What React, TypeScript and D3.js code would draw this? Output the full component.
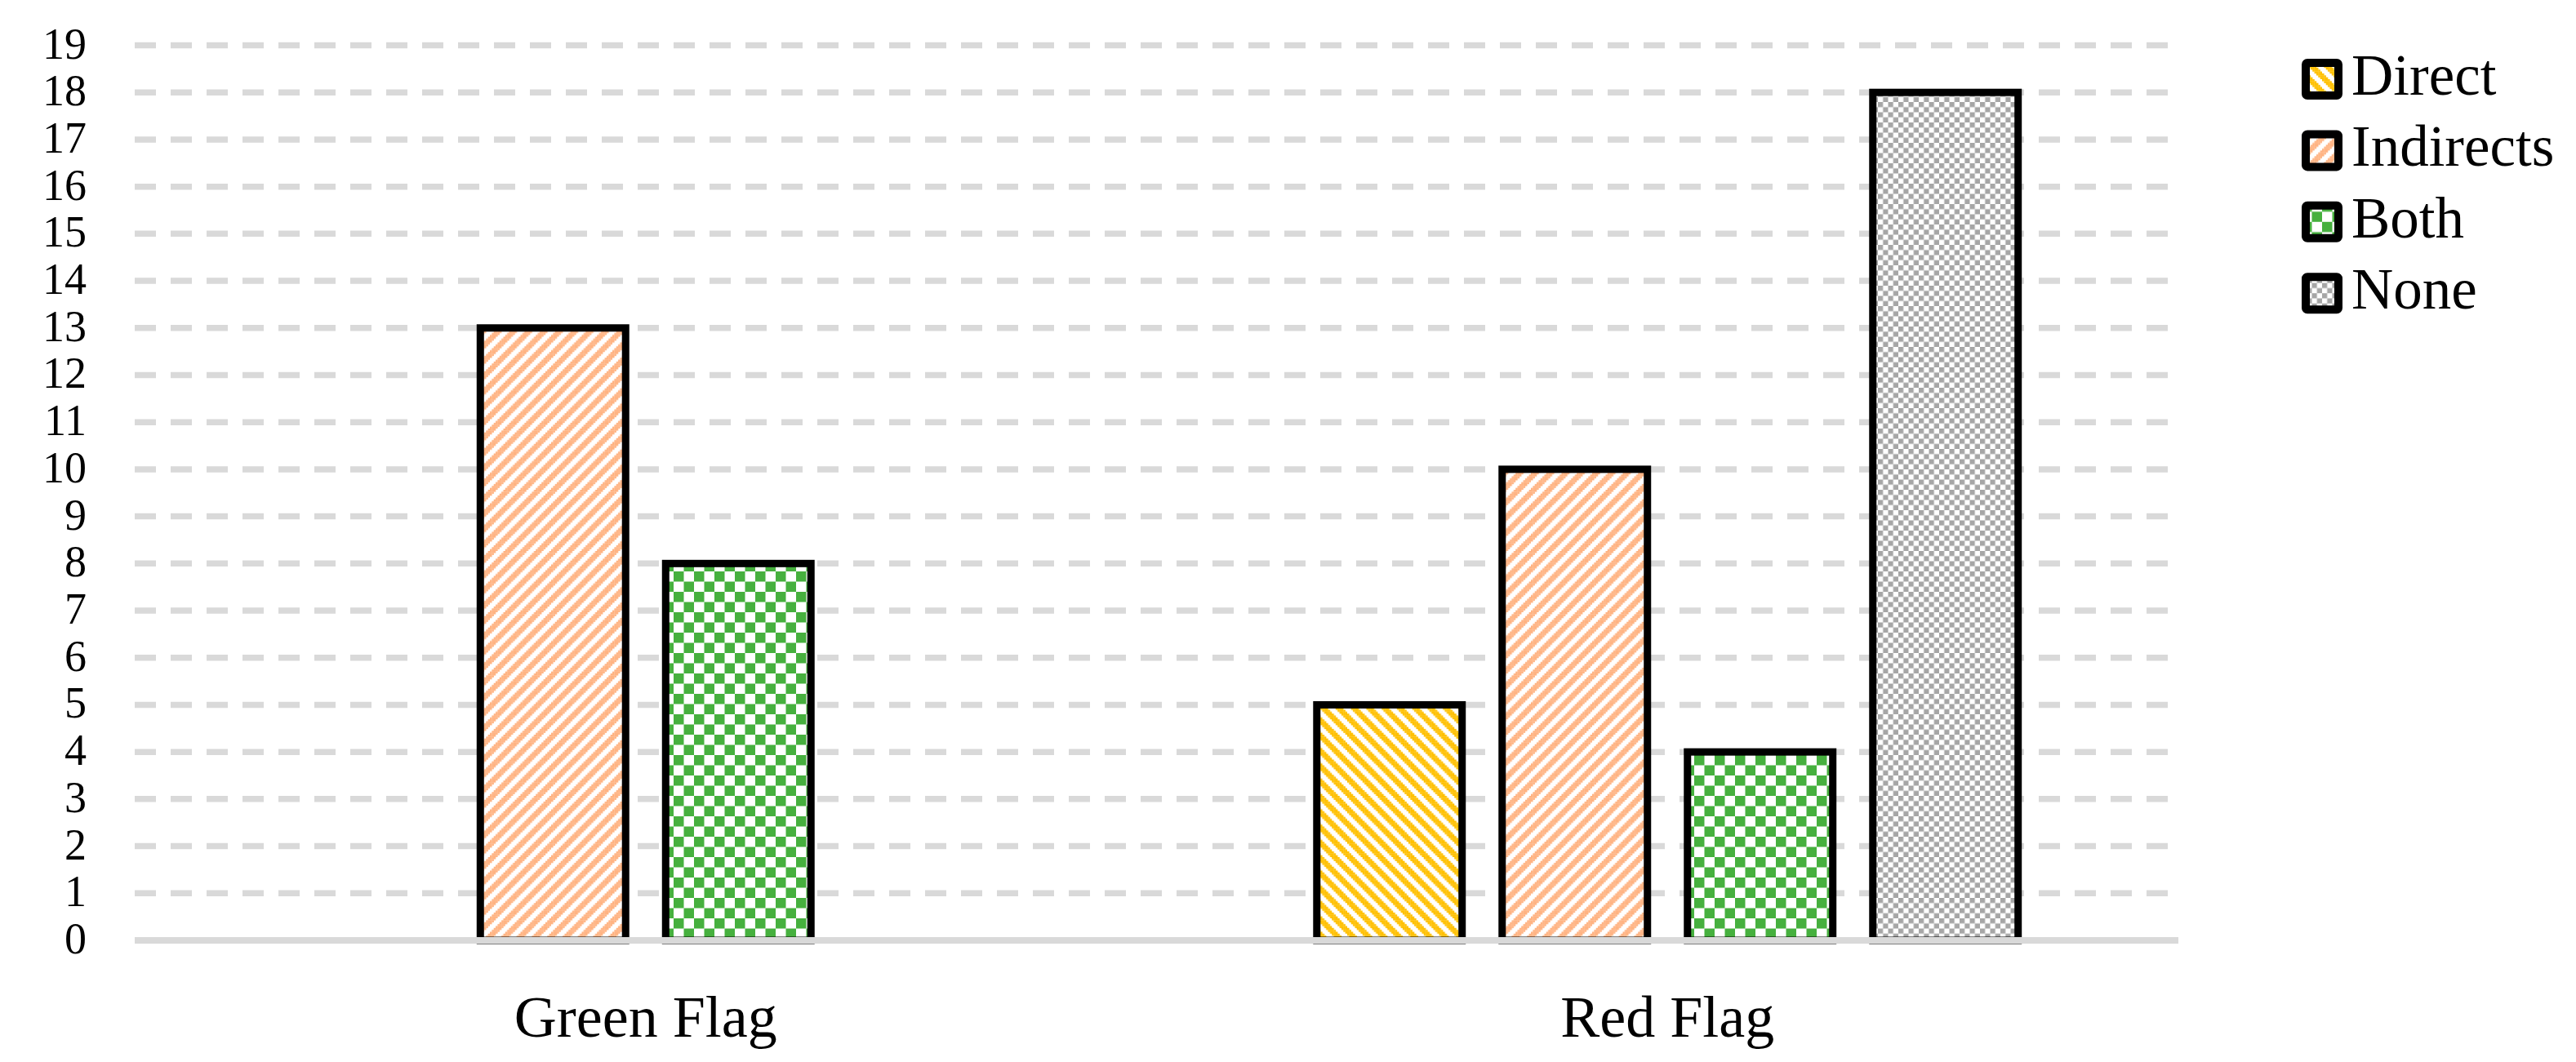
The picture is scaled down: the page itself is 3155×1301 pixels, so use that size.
import * as d3 from "d3";
import { useEffect, useRef } from "react";

const categories = ["Green Flag", "Red Flag"];
const seriesNames = ["Direct", "Indirects", "Both", "None"];
const greenFlagValues = [0, 13, 8, 0];
const redFlagValues = [5, 10, 4, 18];
const yTickValues = [0, 1, 2, 3, 4, 5, 6, 7, 8, 9, 10, 11, 12, 13, 14, 15, 16, 17, 18, 19];

const seriesColors = ["#FFC000", "#FFB382", "#46B03E", "#A6A6A6"];
const FONT = "'Liberation Serif', 'Times New Roman', serif";

export default function App() {
  const svgRef = useRef<SVGSVGElement | null>(null);
  const width = 3155;
  const height = 1301;

  useEffect(() => {
    if (!svgRef.current) return;
    const svg = d3.select(svgRef.current);
    svg.selectAll("*").remove();

    const rows = [greenFlagValues, redFlagValues];
    const bars = categories.flatMap((cat, ci) =>
      seriesNames.map((s, si) => ({ cat, series: s, si, value: rows[ci][si] }))
    );

    // scales
    const plotLeft = 165;
    const plotRight = 2668;
    const x0 = d3
      .scaleBand()
      .domain(categories)
      .range([plotLeft, plotRight])
      .paddingInner(0.2745)
      .paddingOuter(0.13725);
    const x1 = d3
      .scaleBand()
      .domain(seriesNames)
      .range([0, x0.bandwidth()])
      .paddingInner(0.216)
      .paddingOuter(0.108);
    const y = d3.scaleLinear().domain([0, 19]).range([1152, 55.5]);

    // patterns
    const defs = svg.append("defs");
    const P = 18.75;
    const c = P / 8;
    const stripe = (id: string, color: string, down: boolean) => {
      const pat = defs
        .append("pattern")
        .attr("id", id)
        .attr("patternUnits", "userSpaceOnUse")
        .attr("width", P)
        .attr("height", P);
      pat.append("rect").attr("width", P).attr("height", P).attr("fill", "#fff");
      const cells: [number, number][] = [];
      for (let r = 0; r < 8; r++) {
        const start = down ? r : 7 - r;
        for (let k = 0; k < 4; k++) cells.push([(start + k) % 8, r]);
      }
      pat
        .selectAll("rect.cell")
        .data(cells)
        .enter()
        .append("rect")
        .attr("class", "cell")
        .attr("x", (d) => d[0] * c)
        .attr("y", (d) => d[1] * c)
        .attr("width", c + 0.2)
        .attr("height", c + 0.2)
        .attr("fill", color);
    };
    const checker = (id: string, color: string, size: number) => {
      const pat = defs
        .append("pattern")
        .attr("id", id)
        .attr("patternUnits", "userSpaceOnUse")
        .attr("width", size * 2)
        .attr("height", size * 2);
      pat.append("rect").attr("width", size * 2).attr("height", size * 2).attr("fill", "#fff");
      pat.append("rect").attr("width", size).attr("height", size).attr("fill", color);
      pat.append("rect").attr("x", size).attr("y", size).attr("width", size).attr("height", size).attr("fill", color);
    };
    stripe("pat-0", seriesColors[0], true);
    stripe("pat-1", seriesColors[1], false);
    checker("pat-2", seriesColors[2], 12.5);
    checker("pat-3", seriesColors[3], 6.25);

    // gridlines
    svg
      .append("g")
      .selectAll("line")
      .data(yTickValues.filter((v) => v > 0))
      .enter()
      .append("line")
      .attr("x1", plotLeft)
      .attr("x2", plotRight)
      .attr("y1", (d) => y(d))
      .attr("y2", (d) => y(d))
      .attr("stroke", "#D9D9D9")
      .attr("stroke-width", 7.5)
      .attr("stroke-dasharray", "26 18");

    // y tick labels
    svg
      .append("g")
      .selectAll("text")
      .data(yTickValues)
      .enter()
      .append("text")
      .attr("x", 106)
      .attr("y", (d) => y(d) + 16)
      .attr("text-anchor", "end")
      .style("font-family", FONT)
      .style("font-size", "54px")
      .text((d) => d);

    // bars
    svg
      .append("g")
      .selectAll("rect")
      .data(bars.filter((d) => d.value > 0))
      .enter()
      .append("rect")
      .attr("x", (d) => x0(d.cat)! + x1(d.series)!)
      .attr("y", (d) => y(d.value))
      .attr("width", x1.bandwidth())
      .attr("height", (d) => y(0) - y(d.value))
      .attr("fill", (d) => `url(#pat-${d.si})`)
      .attr("stroke", "#000")
      .attr("stroke-width", 9);

    // baseline
    svg
      .append("line")
      .attr("x1", plotLeft)
      .attr("x2", plotRight)
      .attr("y1", y(0))
      .attr("y2", y(0))
      .attr("stroke", "#D9D9D9")
      .attr("stroke-width", 8);

    // category labels
    svg
      .append("g")
      .selectAll("text")
      .data(categories)
      .enter()
      .append("text")
      .attr("x", (d) => x0(d)! + x0.bandwidth() / 2)
      .attr("y", 1270)
      .attr("text-anchor", "middle")
      .style("font-family", FONT)
      .style("font-size", "72px")
      .text((d) => d);

    // legend
    const legend = svg
      .append("g")
      .selectAll("g")
      .data(seriesNames)
      .enter()
      .append("g")
      .attr("transform", (_d, i) => `translate(2844, ${97 + i * 87.4})`);
    legend
      .append("rect")
      .attr("x", -20)
      .attr("y", -20)
      .attr("width", 40)
      .attr("height", 40)
      .attr("rx", 2)
      .attr("fill", (_d, i) => `url(#pat-${i})`)
      .attr("stroke", "#000")
      .attr("stroke-width", 10);
    legend
      .append("text")
      .attr("x", 36)
      .attr("y", 19)
      .style("font-family", FONT)
      .style("font-size", "71px")
      .text((d) => d);
  }, [svgRef]);

  return (
    <svg
      ref={svgRef}
      width={width}
      height={height}
      style={{ position: "absolute", left: 0, top: 0, background: "#fff" }}
    />
  );
}
